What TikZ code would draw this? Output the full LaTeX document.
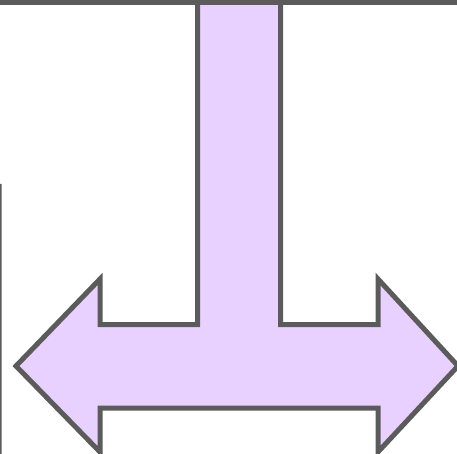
\documentclass[tikz,border=0pt]{standalone}
\definecolor{arrowfill}{HTML}{E8D1FF}
\definecolor{edgegray}{HTML}{5B5B5B}
\tikzset{
  shapeline/.style={draw=edgegray, line width=5pt, line join=miter},
}
\begin{document}
\begin{tikzpicture}[x=1pt,y=-1pt]
\useasboundingbox (0,0) rectangle (457,454);
% T-shaped double arrow
\filldraw[shapeline, fill=arrowfill]
  (197.5,2.5) -- (280.5,2.5) -- (280.5,324.5) -- (378,324.5) -- (378,279)
  -- (458,366) -- (378,452) -- (378,408) -- (100,408) -- (100,452)
  -- (16,366) -- (100,279) -- (100,324.5) -- (197.5,324.5) -- cycle;
% top edge of an outer shape
\draw[shapeline] (-5,2.5) -- (462,2.5);
% edge of a rounded shape at the left
\draw[draw=edgegray, line width=3pt] (-12,196) arc[start angle=90, end angle=0, radius=12] -- (0,460);
\end{tikzpicture}
\end{document}
